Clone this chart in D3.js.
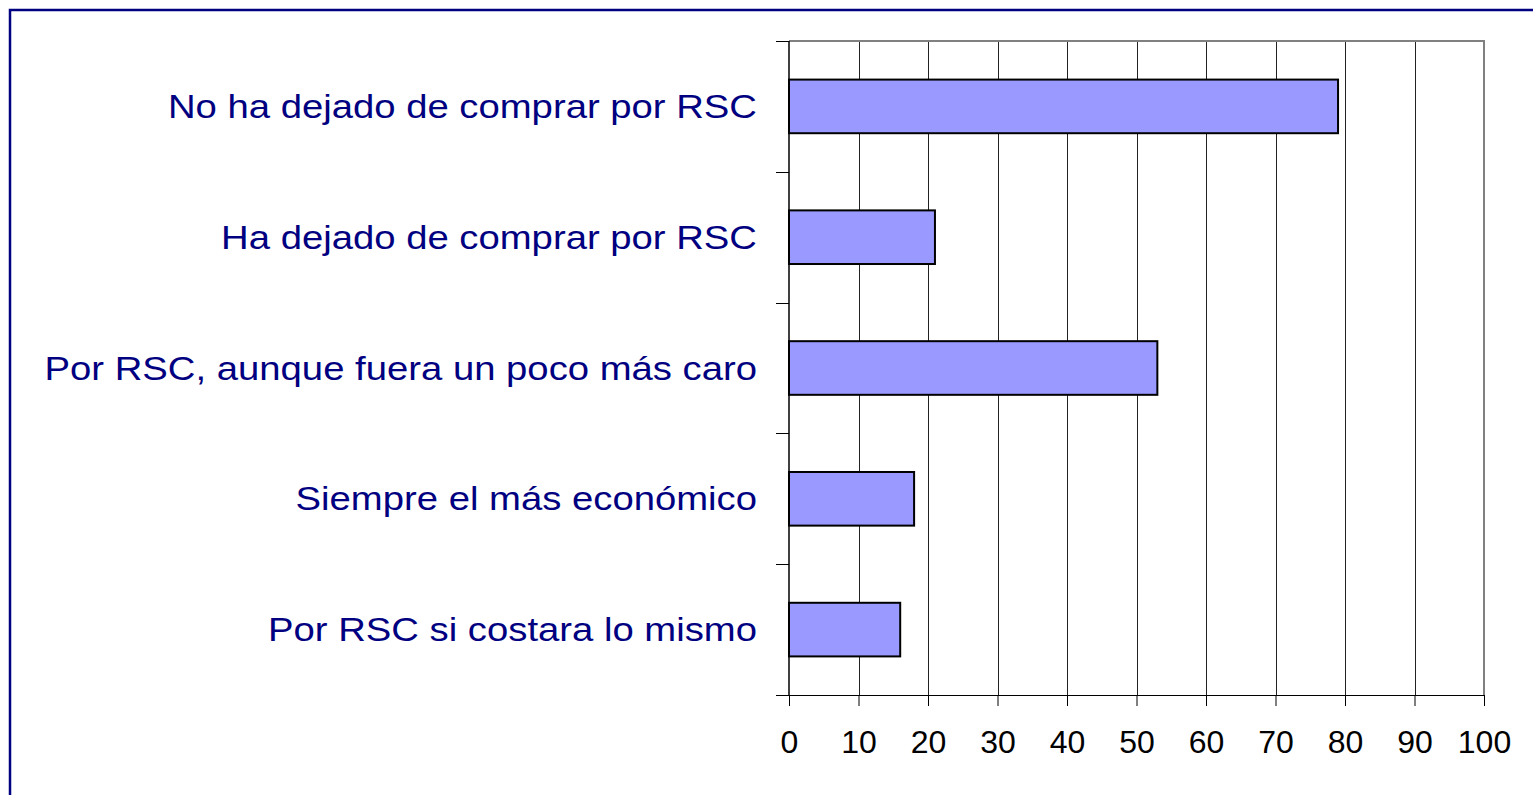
<!DOCTYPE html>
<html>
<head>
<meta charset="utf-8">
<script src="https://cdn.jsdelivr.net/npm/d3@7"></script>
<style>
  html, body { margin: 0; padding: 0; background: #fff; overflow: hidden; }
</style>
</head>
<body>
<script>
// chart data
const categories = [
  'No ha dejado de comprar por RSC',
  'Ha dejado de comprar por RSC',
  'Por RSC, aunque fuera un poco más caro',
  'Siempre el más económico',
  'Por RSC si costara lo mismo'
];
const values = [79, 21, 53, 18, 16];
const xTicks = [0, 10, 20, 30, 40, 50, 60, 70, 80, 90, 100];

const W = 1533, H = 795;
const plot = { left: 789, right: 1484, top: 41, bottom: 695 };

const svg = d3.select('body')
  .append('svg')
  .attr('width', W)
  .attr('height', H);

// outer frame (runs off the right and bottom edges)
svg.append('rect')
  .attr('x', 10).attr('y', 10)
  .attr('width', 1600).attr('height', 900)
  .attr('fill', 'none')
  .attr('stroke', '#000080')
  .attr('stroke-width', 2.5);

const x = d3.scaleLinear().domain([0, 100]).range([plot.left, plot.right]);
const y = d3.scaleBand()
  .domain(categories)
  .range([plot.top, plot.bottom])
  .paddingInner(0.59)
  .paddingOuter(0.295);

// vertical gridlines
svg.append('g')
  .selectAll('line')
  .data(xTicks.slice(1, -1))
  .join('line')
  .attr('x1', d => Math.round(x(d)) + 0.5)
  .attr('x2', d => Math.round(x(d)) + 0.5)
  .attr('y1', plot.top)
  .attr('y2', plot.bottom)
  .attr('stroke', '#222')
  .attr('stroke-width', 1);

// plot area top / right border (grey)
svg.append('path')
  .attr('d', `M${plot.left},${plot.top}H${plot.right}V${plot.bottom}`)
  .attr('fill', 'none')
  .attr('stroke', '#808080')
  .attr('stroke-width', 2);

// bars
svg.append('g')
  .selectAll('rect')
  .data(values)
  .join('rect')
  .attr('x', x(0))
  .attr('y', (d, i) => y(categories[i]))
  .attr('width', d => x(d) - x(0))
  .attr('height', y.bandwidth())
  .attr('fill', '#9999ff')
  .attr('stroke', '#000')
  .attr('stroke-width', 2);

// x axis
const xAxis = d3.axisBottom(x)
  .tickValues(xTicks)
  .tickSize(11)
  .tickPadding(24)
  .tickFormat(d3.format('d'));

const gx = svg.append('g')
  .attr('transform', `translate(0,${plot.bottom})`)
  .call(xAxis);
gx.select('.domain')
  .attr('d', `M${plot.left - 13},0.5H${plot.right}`)
  .attr('stroke', '#000');
gx.selectAll('.tick line').attr('stroke', '#000');
gx.selectAll('.tick text')
  .attr('font-family', 'Liberation Sans, Arial, sans-serif')
  .attr('font-size', 32)
  .attr('fill', '#000');

// y axis: line + ticks at category boundaries
const step = y.step();
const bounds = d3.range(categories.length + 1).map(i => plot.top + i * step);
svg.append('line')
  .attr('x1', plot.left).attr('x2', plot.left)
  .attr('y1', plot.top).attr('y2', plot.bottom)
  .attr('stroke', '#000').attr('stroke-width', 1.5);
svg.append('g')
  .selectAll('line')
  .data(bounds)
  .join('line')
  .attr('x1', plot.left - 13)
  .attr('x2', plot.left)
  .attr('y1', d => Math.round(d) + 0.5)
  .attr('y2', d => Math.round(d) + 0.5)
  .attr('stroke', '#000');

// category labels (the original text is a little stretched horizontally)
svg.append('g')
  .selectAll('text')
  .data(categories)
  .join('text')
  .attr('transform', d => `translate(${plot.left - 32},${y(d) + y.bandwidth() / 2}) scale(1.16,1)`)
  .attr('dy', '0.35em')
  .attr('text-anchor', 'end')
  .attr('font-family', 'Liberation Sans, Arial, sans-serif')
  .attr('font-size', 33)
  .attr('fill', '#000080')
  .text(d => d);
</script>
</body>
</html>
